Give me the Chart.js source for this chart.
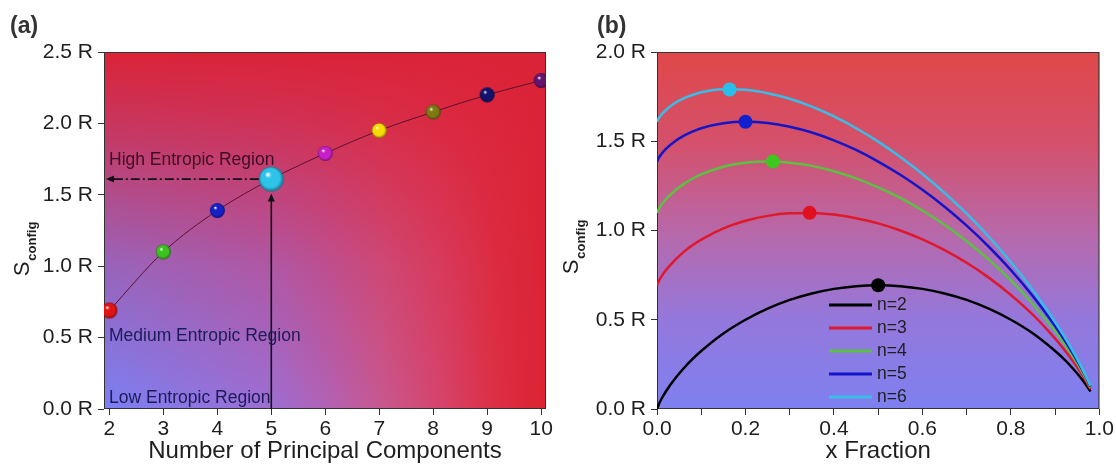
<!DOCTYPE html>
<html>
<head>
<meta charset="utf-8">
<script src="https://cdn.jsdelivr.net/npm/chart.js@4.4.0/dist/chart.umd.min.js"></script>
<style>
  body { margin: 0; background: #fff; }
  .panel { position: absolute; top: 0; width: 558px; height: 466px; }
  #panelA { left: 0; }
  #panelB { left: 558px; }
</style>
</head>
<body>
<div class="panel" id="panelA"><canvas id="chartA" width="558" height="466"></canvas></div>
<div class="panel" id="panelB"><canvas id="chartB" width="558" height="466"></canvas></div>
<script>
// ---- (a) S_config against number of principal components ----
const components = [2, 3, 4, 5, 6, 7, 8, 9, 10];
const entropyR = [0.69, 1.10, 1.39, 1.61, 1.79, 1.95, 2.08, 2.20, 2.30];
const ballColors = ['#e01414', '#3cc21e', '#1420c8', '#2ec4ea', '#c81ec8', '#f5dc00', '#7d7a12', '#12126e', '#641470'];
const ballRadius = [8, 7.5, 7.5, 12.5, 7.5, 7.5, 7.5, 7.5, 7.5];
const yTicksA = [0, 0.5, 1.0, 1.5, 2.0, 2.5];

// ---- (b) S_config against fraction x of one element ----
const xFraction = [0, 0.005, 0.01, 0.02, 0.04, 0.06, 0.08, 0.1, 0.15, 0.2, 0.25, 0.3, 0.35, 0.4,
  0.45, 0.5, 0.55, 0.6, 0.65, 0.7, 0.75, 0.8, 0.85, 0.9, 0.92, 0.94, 0.96, 0.98];
const sN2 = [0, 0.031, 0.056, 0.098, 0.168, 0.227, 0.279, 0.325, 0.423, 0.500, 0.562, 0.611, 0.647, 0.673,
  0.688, 0.693, 0.688, 0.673, 0.647, 0.611, 0.562, 0.500, 0.423, 0.325, 0.279, 0.227, 0.168, 0.098];
const sN3 = [0.693, 0.721, 0.742, 0.777, 0.833, 0.879, 0.917, 0.949, 1.012, 1.055, 1.082, 1.096, 1.098, 1.089,
  1.069, 1.040, 1.000, 0.950, 0.890, 0.819, 0.736, 0.639, 0.527, 0.394, 0.334, 0.269, 0.196, 0.112];
const sN4 = [1.099, 1.125, 1.144, 1.175, 1.223, 1.260, 1.290, 1.314, 1.357, 1.379, 1.386, 1.380, 1.362, 1.332,
  1.292, 1.242, 1.183, 1.112, 1.032, 0.940, 0.837, 0.720, 0.587, 0.435, 0.367, 0.293, 0.212, 0.120];
const sN5 = [1.386, 1.411, 1.428, 1.457, 1.499, 1.530, 1.554, 1.573, 1.601, 1.609, 1.602, 1.581, 1.549, 1.505,
  1.451, 1.386, 1.312, 1.228, 1.133, 1.027, 0.909, 0.778, 0.631, 0.464, 0.390, 0.310, 0.224, 0.126];
const sN6 = [1.609, 1.633, 1.649, 1.675, 1.713, 1.740, 1.759, 1.774, 1.791, 1.788, 1.769, 1.738, 1.694, 1.639,
  1.573, 1.498, 1.412, 1.317, 1.211, 1.094, 0.965, 0.822, 0.664, 0.486, 0.408, 0.324, 0.232, 0.130];
const seriesLabels = ['n=2', 'n=3', 'n=4', 'n=5', 'n=6'];
const seriesColors = ['#000000', '#e0182c', '#5cc040', '#1414c8', '#38bde8'];
const peakX = [0.50, 0.345, 0.262, 0.20, 0.164];
const peakS = [0.693, 1.099, 1.386, 1.609, 1.79];
const peakColors = ['#000000', '#e0101e', '#3cc81e', '#1020d0', '#28c0ea'];
const xTicksB = [0, 0.1, 0.2, 0.3, 0.4, 0.5, 0.6, 0.7, 0.8, 0.9, 1.0];
const yTicksB = [0, 0.5, 1.0, 1.5, 2.0];

const FONT = "'Liberation Sans', Arial, sans-serif";
const INK = '#1e1e1e';

// glossy sphere sprites for the markers in (a)
function darken(hex, k) {
  const n = parseInt(hex.slice(1), 16);
  const r = Math.round(((n >> 16) & 255) * k), g = Math.round(((n >> 8) & 255) * k), b = Math.round((n & 255) * k);
  return `rgb(${r},${g},${b})`;
}
function makeBall(color, r) {
  const c = document.createElement('canvas');
  const size = Math.ceil(r * 2 + 2);
  c.width = size; c.height = size;
  const g = c.getContext('2d');
  const cx = size / 2, cy = size / 2;
  const grad = g.createRadialGradient(cx - r * 0.3, cy - r * 0.4, r * 0.05, cx, cy, r);
  grad.addColorStop(0, '#ffffff');
  grad.addColorStop(0.22, color);
  grad.addColorStop(0.75, color);
  grad.addColorStop(1, darken(color, 0.55));
  g.fillStyle = grad;
  g.beginPath();
  g.arc(cx, cy, r, 0, Math.PI * 2);
  g.fill();
  return c;
}
const balls = ballColors.map((c, i) => makeBall(c, ballRadius[i]));

function drawSConfig(ctx, x, yc) {
  ctx.save();
  ctx.translate(x, yc);
  ctx.rotate(-Math.PI / 2);
  ctx.fillStyle = INK;
  ctx.textAlign = 'left';
  ctx.textBaseline = 'alphabetic';
  ctx.font = `22px ${FONT}`;
  const wS = ctx.measureText('S').width;
  ctx.font = `bold 13px ${FONT}`;
  const wSub = ctx.measureText('config').width;
  const start = -(wS + 1 + wSub) / 2;
  ctx.font = `22px ${FONT}`;
  ctx.fillText('S', start, 0);
  ctx.font = `bold 13px ${FONT}`;
  ctx.fillText('config', start + wS + 1, 7);
  ctx.restore();
}

function arrowHead(ctx, x, y, dx, dy) {
  const len = 8, half = 3.5;
  const bx = x - dx * len, by = y - dy * len;
  ctx.beginPath();
  ctx.moveTo(x, y);
  ctx.lineTo(bx - dy * half, by + dx * half);
  ctx.lineTo(bx + dy * half, by - dx * half);
  ctx.closePath();
  ctx.fill();
}

const frame = {
  id: 'frame',
  beforeDatasetsDraw(chart) {
    const { ctx, chartArea: a } = chart;
    ctx.save();
    ctx.strokeStyle = '#333';
    ctx.lineWidth = 1;
    ctx.strokeRect(a.left + 0.5, a.top + 0.5, a.right - a.left - 1, a.bottom - a.top - 1);
    ctx.restore();
  }
};

const bgA = {
  id: 'bgA',
  beforeDraw(chart) {
    const { ctx, chartArea: a } = chart;
    const w = a.right - a.left, h = a.bottom - a.top;
    ctx.save();
    const gx = ctx.createLinearGradient(a.left, 0, a.right, 0);
    gx.addColorStop(0, '#7b80f4');
    gx.addColorStop(0.38, '#9d6ed2');
    gx.addColorStop(0.5, '#b162b6');
    gx.addColorStop(0.63, '#c8588f');
    gx.addColorStop(0.76, '#d6446c');
    gx.addColorStop(0.88, '#dc3046');
    gx.addColorStop(1, '#dc2232');
    ctx.fillStyle = gx;
    ctx.fillRect(a.left, a.top, w, h);
    const gy = ctx.createLinearGradient(0, a.bottom, 0, a.top);
    gy.addColorStop(0, 'rgba(219,35,56,0)');
    gy.addColorStop(0.4, 'rgba(219,35,56,0.3)');
    gy.addColorStop(0.6, 'rgba(219,35,56,0.55)');
    gy.addColorStop(0.8, 'rgba(219,35,56,0.8)');
    gy.addColorStop(1, 'rgba(219,35,56,1)');
    ctx.fillStyle = gy;
    ctx.fillRect(a.left, a.top, w, h);
    ctx.restore();
  }
};

const bgB = {
  id: 'bgB',
  beforeDraw(chart) {
    const { ctx, chartArea: a } = chart;
    ctx.save();
    const gy = ctx.createLinearGradient(0, a.bottom, 0, a.top);
    gy.addColorStop(0, '#7e80f0');
    gy.addColorStop(0.25, '#9478dc');
    gy.addColorStop(0.5, '#b868a8');
    gy.addColorStop(0.75, '#d4506a');
    gy.addColorStop(1, '#e0484a');
    ctx.fillStyle = gy;
    ctx.fillRect(a.left, a.top, a.right - a.left, a.bottom - a.top);
    ctx.restore();
  }
};

// arrows from the n=5 point and the region captions
const annotateA = {
  id: 'annotateA',
  afterDatasetsDraw(chart) {
    const { ctx, chartArea: a, scales: { x, y } } = chart;
    const px = x.getPixelForValue(components[3]);
    const py = y.getPixelForValue(entropyR[3]);
    const r = ballRadius[3];
    ctx.save();
    ctx.strokeStyle = '#111';
    ctx.fillStyle = '#111';
    ctx.lineWidth = 1.6;
    const tipY = py + r + 2;
    ctx.beginPath();
    ctx.moveTo(px, a.bottom);
    ctx.lineTo(px, tipY + 6);
    ctx.stroke();
    arrowHead(ctx, px, tipY, 0, -1);
    const tipX = a.left + 2;
    ctx.setLineDash([9, 3, 2, 3]);
    ctx.beginPath();
    ctx.moveTo(px - r, py);
    ctx.lineTo(tipX + 6, py);
    ctx.stroke();
    ctx.setLineDash([]);
    arrowHead(ctx, tipX, py, -1, 0);

    ctx.font = `17.5px ${FONT}`;
    ctx.textAlign = 'left';
    ctx.textBaseline = 'alphabetic';
    ctx.fillStyle = '#3d0c25';
    ctx.fillText('High Entropic Region', a.left + 5, y.getPixelForValue(1.712));
    ctx.fillStyle = '#1d1b58';
    ctx.fillText('Medium Entropic Region', a.left + 5, y.getPixelForValue(0.476));
    ctx.fillText('Low Entropic Region', a.left + 5, y.getPixelForValue(0.042));
    ctx.restore();
  },
  afterDraw(chart) {
    const { ctx } = chart;
    drawSConfig(ctx, 29, 249);
    ctx.save();
    ctx.font = `bold 23px ${FONT}`;
    ctx.fillStyle = '#333';
    ctx.fillText('(a)', 10, 33);
    ctx.restore();
  }
};

const legendB = {
  id: 'legendB',
  afterDatasetsDraw(chart) {
    const { ctx, chartArea: a } = chart;
    const x0 = a.left + 172, y0 = a.top + 253;
    ctx.save();
    ctx.font = `17.5px ${FONT}`;
    ctx.textBaseline = 'middle';
    ctx.textAlign = 'left';
    seriesLabels.forEach((lab, i) => {
      const yy = y0 + i * 23;
      ctx.strokeStyle = seriesColors[i];
      ctx.lineWidth = 3;
      ctx.beginPath();
      ctx.moveTo(x0, yy);
      ctx.lineTo(x0 + 43, yy);
      ctx.stroke();
      ctx.fillStyle = INK;
      ctx.fillText(lab, x0 + 48, yy);
    });
    ctx.restore();
  },
  afterDraw(chart) {
    const { ctx } = chart;
    drawSConfig(ctx, 20, 247);
    ctx.save();
    ctx.font = `bold 23px ${FONT}`;
    ctx.fillStyle = '#333';
    ctx.fillText('(b)', 39, 33);
    ctx.restore();
  }
};

function axisX(min, max, ticks, title, label, height) {
  return {
    type: 'linear', min, max,
    afterBuildTicks: s => { s.ticks = ticks.map(v => ({ value: v })); },
    afterFit: s => { s.height = height; },
    grid: { display: true, drawOnChartArea: false, tickLength: 6, color: '#333' },
    border: { display: false },
    ticks: { color: INK, font: { family: FONT, size: 21 }, padding: 2, maxRotation: 0, autoSkip: false, callback: label },
    title: { display: true, text: title, color: INK, font: { family: FONT, size: 24 }, padding: 0 }
  };
}
function axisY(min, max, ticks, width) {
  return {
    type: 'linear', min, max,
    afterBuildTicks: s => { s.ticks = ticks.map(v => ({ value: v })); },
    afterFit: s => { s.width = width; },
    grid: { display: true, drawOnChartArea: false, tickLength: 6, color: '#333' },
    border: { display: false },
    ticks: { color: INK, font: { family: FONT, size: 21 }, padding: 5, callback: v => v.toFixed(1) + ' R' }
  };
}

const common = {
  responsive: false,
  animation: false,
  events: [],
  plugins: { legend: { display: false }, tooltip: { enabled: false } }
};

new Chart(document.getElementById('chartA'), {
  type: 'line',
  data: {
    datasets: [{
      data: components.map((n, i) => ({ x: n, y: entropyR[i] })),
      borderColor: '#5c1030',
      borderWidth: 1,
      cubicInterpolationMode: 'monotone',
      pointStyle: balls,
      pointRadius: ballRadius,
      pointHoverRadius: ballRadius
    }]
  },
  options: {
    ...common,
    layout: { padding: { top: 52, right: 12, left: 0, bottom: 0 } },
    scales: {
      x: axisX(1.9, 10.09, components, 'Number of Principal Components', v => v, 57),
      y: axisY(0, 2.5, yTicksA, 104)
    }
  },
  plugins: [bgA, frame, annotateA]
});

const curveSets = [sN2, sN3, sN4, sN5, sN6].map((s, i) => ({
  data: xFraction.map((xv, j) => ({ x: xv, y: s[j] })),
  borderColor: seriesColors[i],
  borderWidth: 2.5,
  cubicInterpolationMode: 'monotone',
  pointRadius: 0,
  order: 6 - i
}));

new Chart(document.getElementById('chartB'), {
  type: 'line',
  data: {
    datasets: [...curveSets, {
      data: peakX.map((xv, i) => ({ x: xv, y: peakS[i] })),
      showLine: false,
      pointRadius: 7,
      pointBorderWidth: 0,
      pointBackgroundColor: peakColors,
      order: 0
    }]
  },
  options: {
    ...common,
    layout: { padding: { top: 52, right: 16, left: 0, bottom: 0 } },
    scales: {
      x: axisX(0, 1, xTicksB, 'x Fraction', v => (Math.round(v * 10) % 2 === 0 ? v.toFixed(1) : ''), 57),
      y: axisY(0, 2.0, yTicksB, 99)
    }
  },
  plugins: [bgB, frame, legendB]
});
</script>
</body>
</html>
